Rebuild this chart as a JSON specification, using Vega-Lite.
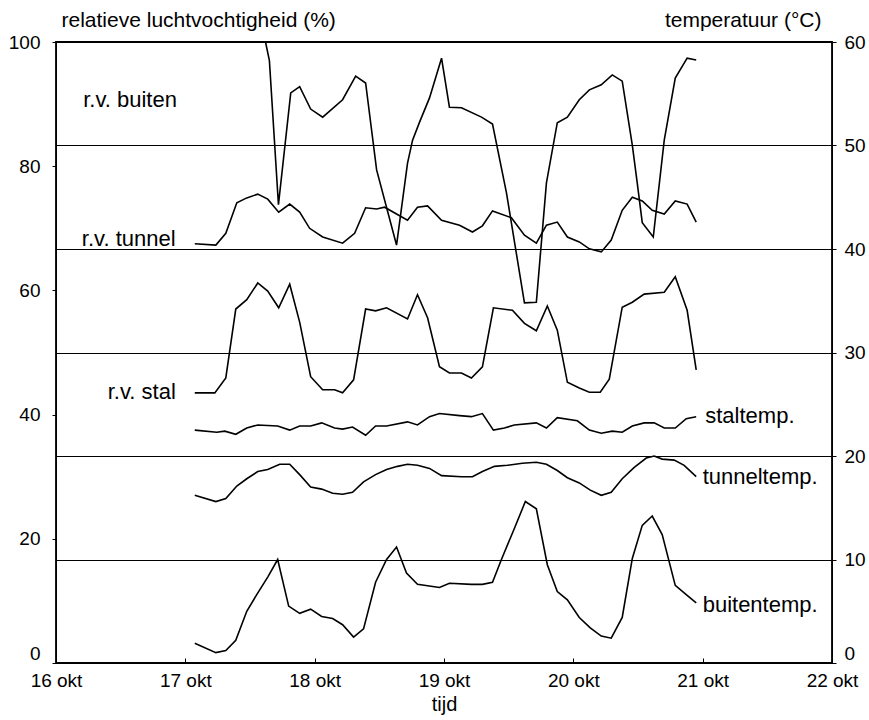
{
  "$schema": "https://vega.github.io/schema/vega-lite/v6.json",
  "width": 776,
  "height": 621,
  "autosize": {"type": "none"},
  "padding": {"left": 56, "top": 42, "right": 37, "bottom": 57},
  "background": "white",
  "config": {
    "view": {"stroke": "black", "strokeWidth": 1.8},
    "font": "Liberation Sans, Arial",
    "axis": {
      "labelFont": "Liberation Sans, Arial",
      "titleFont": "Liberation Sans, Arial",
      "labelColor": "black",
      "titleColor": "black",
      "labelFontSize": 19,
      "titleFontSize": 21,
      "titleFontWeight": "normal",
      "tickColor": "black",
      "domainColor": "black",
      "grid": false
    },
    "text": {"font": "Liberation Sans, Arial"}
  },
  "datasets": {
    "rv": [
      {"reeks": "r.v. buiten", "dag": 17.62, "rh": 100},
      {"reeks": "r.v. buiten", "dag": 17.65, "rh": 97},
      {"reeks": "r.v. buiten", "dag": 17.72, "rh": 73.8},
      {"reeks": "r.v. buiten", "dag": 17.815, "rh": 91.8},
      {"reeks": "r.v. buiten", "dag": 17.884, "rh": 92.8},
      {"reeks": "r.v. buiten", "dag": 17.969, "rh": 89.2},
      {"reeks": "r.v. buiten", "dag": 18.062, "rh": 87.9},
      {"reeks": "r.v. buiten", "dag": 18.216, "rh": 90.7},
      {"reeks": "r.v. buiten", "dag": 18.317, "rh": 94.5},
      {"reeks": "r.v. buiten", "dag": 18.394, "rh": 93.4},
      {"reeks": "r.v. buiten", "dag": 18.479, "rh": 79.4},
      {"reeks": "r.v. buiten", "dag": 18.633, "rh": 67.3},
      {"reeks": "r.v. buiten", "dag": 18.718, "rh": 80.5},
      {"reeks": "r.v. buiten", "dag": 18.757, "rh": 84.2},
      {"reeks": "r.v. buiten", "dag": 18.811, "rh": 87.1},
      {"reeks": "r.v. buiten", "dag": 18.888, "rh": 91},
      {"reeks": "r.v. buiten", "dag": 18.981, "rh": 97.4},
      {"reeks": "r.v. buiten", "dag": 19.042, "rh": 89.5},
      {"reeks": "r.v. buiten", "dag": 19.135, "rh": 89.4},
      {"reeks": "r.v. buiten", "dag": 19.29, "rh": 87.9},
      {"reeks": "r.v. buiten", "dag": 19.375, "rh": 86.8},
      {"reeks": "r.v. buiten", "dag": 19.483, "rh": 75.7},
      {"reeks": "r.v. buiten", "dag": 19.622, "rh": 58},
      {"reeks": "r.v. buiten", "dag": 19.714, "rh": 58.1},
      {"reeks": "r.v. buiten", "dag": 19.792, "rh": 77.3},
      {"reeks": "r.v. buiten", "dag": 19.876, "rh": 87},
      {"reeks": "r.v. buiten", "dag": 19.954, "rh": 87.9},
      {"reeks": "r.v. buiten", "dag": 20.046, "rh": 90.7},
      {"reeks": "r.v. buiten", "dag": 20.124, "rh": 92.3},
      {"reeks": "r.v. buiten", "dag": 20.216, "rh": 93.1},
      {"reeks": "r.v. buiten", "dag": 20.301, "rh": 94.7},
      {"reeks": "r.v. buiten", "dag": 20.378, "rh": 93.7},
      {"reeks": "r.v. buiten", "dag": 20.456, "rh": 83.4},
      {"reeks": "r.v. buiten", "dag": 20.494, "rh": 77.3},
      {"reeks": "r.v. buiten", "dag": 20.533, "rh": 70.9},
      {"reeks": "r.v. buiten", "dag": 20.618, "rh": 68.6},
      {"reeks": "r.v. buiten", "dag": 20.703, "rh": 84.2},
      {"reeks": "r.v. buiten", "dag": 20.788, "rh": 94.2},
      {"reeks": "r.v. buiten", "dag": 20.88, "rh": 97.4},
      {"reeks": "r.v. buiten", "dag": 20.95, "rh": 97.1},
      {"reeks": "r.v. tunnel", "dag": 17.073, "rh": 67.5},
      {"reeks": "r.v. tunnel", "dag": 17.236, "rh": 67.3},
      {"reeks": "r.v. tunnel", "dag": 17.313, "rh": 69.2},
      {"reeks": "r.v. tunnel", "dag": 17.398, "rh": 74.1},
      {"reeks": "r.v. tunnel", "dag": 17.475, "rh": 74.9},
      {"reeks": "r.v. tunnel", "dag": 17.56, "rh": 75.5},
      {"reeks": "r.v. tunnel", "dag": 17.637, "rh": 74.7},
      {"reeks": "r.v. tunnel", "dag": 17.722, "rh": 72.6},
      {"reeks": "r.v. tunnel", "dag": 17.807, "rh": 73.9},
      {"reeks": "r.v. tunnel", "dag": 17.884, "rh": 72.6},
      {"reeks": "r.v. tunnel", "dag": 17.961, "rh": 70},
      {"reeks": "r.v. tunnel", "dag": 18.062, "rh": 68.6},
      {"reeks": "r.v. tunnel", "dag": 18.216, "rh": 67.6},
      {"reeks": "r.v. tunnel", "dag": 18.309, "rh": 69.2},
      {"reeks": "r.v. tunnel", "dag": 18.394, "rh": 73.3},
      {"reeks": "r.v. tunnel", "dag": 18.479, "rh": 73.1},
      {"reeks": "r.v. tunnel", "dag": 18.541, "rh": 73.4},
      {"reeks": "r.v. tunnel", "dag": 18.633, "rh": 72.3},
      {"reeks": "r.v. tunnel", "dag": 18.718, "rh": 71.3},
      {"reeks": "r.v. tunnel", "dag": 18.795, "rh": 73.4},
      {"reeks": "r.v. tunnel", "dag": 18.873, "rh": 73.6},
      {"reeks": "r.v. tunnel", "dag": 18.981, "rh": 71.3},
      {"reeks": "r.v. tunnel", "dag": 19.12, "rh": 70.5},
      {"reeks": "r.v. tunnel", "dag": 19.22, "rh": 69.4},
      {"reeks": "r.v. tunnel", "dag": 19.297, "rh": 70.4},
      {"reeks": "r.v. tunnel", "dag": 19.375, "rh": 72.8},
      {"reeks": "r.v. tunnel", "dag": 19.521, "rh": 71.7},
      {"reeks": "r.v. tunnel", "dag": 19.622, "rh": 68.9},
      {"reeks": "r.v. tunnel", "dag": 19.714, "rh": 67.6},
      {"reeks": "r.v. tunnel", "dag": 19.792, "rh": 70.5},
      {"reeks": "r.v. tunnel", "dag": 19.876, "rh": 71},
      {"reeks": "r.v. tunnel", "dag": 19.954, "rh": 68.6},
      {"reeks": "r.v. tunnel", "dag": 20.046, "rh": 67.8},
      {"reeks": "r.v. tunnel", "dag": 20.124, "rh": 66.7},
      {"reeks": "r.v. tunnel", "dag": 20.216, "rh": 66.2},
      {"reeks": "r.v. tunnel", "dag": 20.293, "rh": 68.1},
      {"reeks": "r.v. tunnel", "dag": 20.378, "rh": 72.9},
      {"reeks": "r.v. tunnel", "dag": 20.456, "rh": 75},
      {"reeks": "r.v. tunnel", "dag": 20.533, "rh": 74.4},
      {"reeks": "r.v. tunnel", "dag": 20.61, "rh": 72.9},
      {"reeks": "r.v. tunnel", "dag": 20.703, "rh": 72.3},
      {"reeks": "r.v. tunnel", "dag": 20.788, "rh": 74.4},
      {"reeks": "r.v. tunnel", "dag": 20.88, "rh": 73.9},
      {"reeks": "r.v. tunnel", "dag": 20.95, "rh": 71},
      {"reeks": "r.v. stal", "dag": 17.073, "rh": 43.5},
      {"reeks": "r.v. stal", "dag": 17.228, "rh": 43.5},
      {"reeks": "r.v. stal", "dag": 17.313, "rh": 45.9},
      {"reeks": "r.v. stal", "dag": 17.39, "rh": 57},
      {"reeks": "r.v. stal", "dag": 17.475, "rh": 58.5},
      {"reeks": "r.v. stal", "dag": 17.56, "rh": 61.2},
      {"reeks": "r.v. stal", "dag": 17.637, "rh": 59.9},
      {"reeks": "r.v. stal", "dag": 17.722, "rh": 57.2},
      {"reeks": "r.v. stal", "dag": 17.807, "rh": 61},
      {"reeks": "r.v. stal", "dag": 17.884, "rh": 54.9},
      {"reeks": "r.v. stal", "dag": 17.969, "rh": 46.1},
      {"reeks": "r.v. stal", "dag": 18.062, "rh": 44},
      {"reeks": "r.v. stal", "dag": 18.154, "rh": 44},
      {"reeks": "r.v. stal", "dag": 18.216, "rh": 43.5},
      {"reeks": "r.v. stal", "dag": 18.301, "rh": 45.6},
      {"reeks": "r.v. stal", "dag": 18.394, "rh": 57},
      {"reeks": "r.v. stal", "dag": 18.471, "rh": 56.7},
      {"reeks": "r.v. stal", "dag": 18.556, "rh": 57.2},
      {"reeks": "r.v. stal", "dag": 18.718, "rh": 55.4},
      {"reeks": "r.v. stal", "dag": 18.795, "rh": 59.3},
      {"reeks": "r.v. stal", "dag": 18.873, "rh": 55.6},
      {"reeks": "r.v. stal", "dag": 18.965, "rh": 47.7},
      {"reeks": "r.v. stal", "dag": 19.042, "rh": 46.7},
      {"reeks": "r.v. stal", "dag": 19.135, "rh": 46.7},
      {"reeks": "r.v. stal", "dag": 19.212, "rh": 45.9},
      {"reeks": "r.v. stal", "dag": 19.297, "rh": 47.7},
      {"reeks": "r.v. stal", "dag": 19.382, "rh": 57.2},
      {"reeks": "r.v. stal", "dag": 19.529, "rh": 56.8},
      {"reeks": "r.v. stal", "dag": 19.622, "rh": 54.7},
      {"reeks": "r.v. stal", "dag": 19.714, "rh": 53.5},
      {"reeks": "r.v. stal", "dag": 19.799, "rh": 57.5},
      {"reeks": "r.v. stal", "dag": 19.876, "rh": 53.6},
      {"reeks": "r.v. stal", "dag": 19.954, "rh": 45.2},
      {"reeks": "r.v. stal", "dag": 20.046, "rh": 44.3},
      {"reeks": "r.v. stal", "dag": 20.124, "rh": 43.6},
      {"reeks": "r.v. stal", "dag": 20.208, "rh": 43.6},
      {"reeks": "r.v. stal", "dag": 20.278, "rh": 45.7},
      {"reeks": "r.v. stal", "dag": 20.378, "rh": 57.3},
      {"reeks": "r.v. stal", "dag": 20.456, "rh": 58.1},
      {"reeks": "r.v. stal", "dag": 20.548, "rh": 59.4},
      {"reeks": "r.v. stal", "dag": 20.703, "rh": 59.7},
      {"reeks": "r.v. stal", "dag": 20.788, "rh": 62.2},
      {"reeks": "r.v. stal", "dag": 20.88, "rh": 56.8},
      {"reeks": "r.v. stal", "dag": 20.95, "rh": 47.2}
    ],
    "temp": [
      {"reeks": "staltemp.", "dag": 17.073, "temp": 22.5},
      {"reeks": "staltemp.", "dag": 17.243, "temp": 22.3},
      {"reeks": "staltemp.", "dag": 17.305, "temp": 22.4},
      {"reeks": "staltemp.", "dag": 17.39, "temp": 22.1},
      {"reeks": "staltemp.", "dag": 17.475, "temp": 22.7},
      {"reeks": "staltemp.", "dag": 17.56, "temp": 23},
      {"reeks": "staltemp.", "dag": 17.714, "temp": 22.9},
      {"reeks": "staltemp.", "dag": 17.807, "temp": 22.5},
      {"reeks": "staltemp.", "dag": 17.884, "temp": 22.9},
      {"reeks": "staltemp.", "dag": 17.969, "temp": 22.9},
      {"reeks": "staltemp.", "dag": 18.054, "temp": 23.2},
      {"reeks": "staltemp.", "dag": 18.154, "temp": 22.7},
      {"reeks": "staltemp.", "dag": 18.216, "temp": 22.6},
      {"reeks": "staltemp.", "dag": 18.293, "temp": 22.8},
      {"reeks": "staltemp.", "dag": 18.394, "temp": 22},
      {"reeks": "staltemp.", "dag": 18.471, "temp": 22.9},
      {"reeks": "staltemp.", "dag": 18.556, "temp": 22.9},
      {"reeks": "staltemp.", "dag": 18.718, "temp": 23.3},
      {"reeks": "staltemp.", "dag": 18.795, "temp": 23},
      {"reeks": "staltemp.", "dag": 18.888, "temp": 23.8},
      {"reeks": "staltemp.", "dag": 18.965, "temp": 24.1},
      {"reeks": "staltemp.", "dag": 19.12, "temp": 23.9},
      {"reeks": "staltemp.", "dag": 19.212, "temp": 23.8},
      {"reeks": "staltemp.", "dag": 19.297, "temp": 24.1},
      {"reeks": "staltemp.", "dag": 19.382, "temp": 22.5},
      {"reeks": "staltemp.", "dag": 19.467, "temp": 22.7},
      {"reeks": "staltemp.", "dag": 19.544, "temp": 23},
      {"reeks": "staltemp.", "dag": 19.714, "temp": 23.2},
      {"reeks": "staltemp.", "dag": 19.792, "temp": 22.7},
      {"reeks": "staltemp.", "dag": 19.876, "temp": 23.7},
      {"reeks": "staltemp.", "dag": 20.031, "temp": 23.4},
      {"reeks": "staltemp.", "dag": 20.124, "temp": 22.5},
      {"reeks": "staltemp.", "dag": 20.216, "temp": 22.2},
      {"reeks": "staltemp.", "dag": 20.301, "temp": 22.4},
      {"reeks": "staltemp.", "dag": 20.378, "temp": 22.3},
      {"reeks": "staltemp.", "dag": 20.456, "temp": 22.9},
      {"reeks": "staltemp.", "dag": 20.548, "temp": 23.2},
      {"reeks": "staltemp.", "dag": 20.625, "temp": 23.2},
      {"reeks": "staltemp.", "dag": 20.703, "temp": 22.7},
      {"reeks": "staltemp.", "dag": 20.788, "temp": 22.7},
      {"reeks": "staltemp.", "dag": 20.873, "temp": 23.6},
      {"reeks": "staltemp.", "dag": 20.95, "temp": 23.8},
      {"reeks": "tunneltemp.", "dag": 17.073, "temp": 16.2},
      {"reeks": "tunneltemp.", "dag": 17.236, "temp": 15.6},
      {"reeks": "tunneltemp.", "dag": 17.313, "temp": 15.9},
      {"reeks": "tunneltemp.", "dag": 17.398, "temp": 17.1},
      {"reeks": "tunneltemp.", "dag": 17.475, "temp": 17.8},
      {"reeks": "tunneltemp.", "dag": 17.56, "temp": 18.5},
      {"reeks": "tunneltemp.", "dag": 17.637, "temp": 18.7},
      {"reeks": "tunneltemp.", "dag": 17.73, "temp": 19.2},
      {"reeks": "tunneltemp.", "dag": 17.807, "temp": 19.2},
      {"reeks": "tunneltemp.", "dag": 17.884, "temp": 18.2},
      {"reeks": "tunneltemp.", "dag": 17.969, "temp": 17},
      {"reeks": "tunneltemp.", "dag": 18.054, "temp": 16.8},
      {"reeks": "tunneltemp.", "dag": 18.139, "temp": 16.4},
      {"reeks": "tunneltemp.", "dag": 18.216, "temp": 16.3},
      {"reeks": "tunneltemp.", "dag": 18.293, "temp": 16.5},
      {"reeks": "tunneltemp.", "dag": 18.378, "temp": 17.5},
      {"reeks": "tunneltemp.", "dag": 18.471, "temp": 18.2},
      {"reeks": "tunneltemp.", "dag": 18.556, "temp": 18.7},
      {"reeks": "tunneltemp.", "dag": 18.641, "temp": 19},
      {"reeks": "tunneltemp.", "dag": 18.718, "temp": 19.2},
      {"reeks": "tunneltemp.", "dag": 18.795, "temp": 19.1},
      {"reeks": "tunneltemp.", "dag": 18.888, "temp": 18.8},
      {"reeks": "tunneltemp.", "dag": 18.981, "temp": 18.1},
      {"reeks": "tunneltemp.", "dag": 19.135, "temp": 18},
      {"reeks": "tunneltemp.", "dag": 19.22, "temp": 18},
      {"reeks": "tunneltemp.", "dag": 19.297, "temp": 18.5},
      {"reeks": "tunneltemp.", "dag": 19.39, "temp": 19},
      {"reeks": "tunneltemp.", "dag": 19.49, "temp": 19.1},
      {"reeks": "tunneltemp.", "dag": 19.606, "temp": 19.3},
      {"reeks": "tunneltemp.", "dag": 19.714, "temp": 19.4},
      {"reeks": "tunneltemp.", "dag": 19.792, "temp": 19.2},
      {"reeks": "tunneltemp.", "dag": 19.876, "temp": 18.6},
      {"reeks": "tunneltemp.", "dag": 19.954, "temp": 17.9},
      {"reeks": "tunneltemp.", "dag": 20.046, "temp": 17.4},
      {"reeks": "tunneltemp.", "dag": 20.131, "temp": 16.7},
      {"reeks": "tunneltemp.", "dag": 20.216, "temp": 16.2},
      {"reeks": "tunneltemp.", "dag": 20.293, "temp": 16.5},
      {"reeks": "tunneltemp.", "dag": 20.378, "temp": 17.8},
      {"reeks": "tunneltemp.", "dag": 20.471, "temp": 18.9},
      {"reeks": "tunneltemp.", "dag": 20.564, "temp": 19.8},
      {"reeks": "tunneltemp.", "dag": 20.625, "temp": 20},
      {"reeks": "tunneltemp.", "dag": 20.687, "temp": 19.7},
      {"reeks": "tunneltemp.", "dag": 20.78, "temp": 19.6},
      {"reeks": "tunneltemp.", "dag": 20.857, "temp": 19.1},
      {"reeks": "tunneltemp.", "dag": 20.95, "temp": 18},
      {"reeks": "buitentemp.", "dag": 17.073, "temp": 1.9},
      {"reeks": "buitentemp.", "dag": 17.236, "temp": 1},
      {"reeks": "buitentemp.", "dag": 17.313, "temp": 1.2},
      {"reeks": "buitentemp.", "dag": 17.39, "temp": 2.2},
      {"reeks": "buitentemp.", "dag": 17.475, "temp": 5},
      {"reeks": "buitentemp.", "dag": 17.552, "temp": 6.6},
      {"reeks": "buitentemp.", "dag": 17.637, "temp": 8.3},
      {"reeks": "buitentemp.", "dag": 17.714, "temp": 10},
      {"reeks": "buitentemp.", "dag": 17.799, "temp": 5.5},
      {"reeks": "buitentemp.", "dag": 17.884, "temp": 4.8},
      {"reeks": "buitentemp.", "dag": 17.969, "temp": 5.2},
      {"reeks": "buitentemp.", "dag": 18.054, "temp": 4.5},
      {"reeks": "buitentemp.", "dag": 18.139, "temp": 4.3},
      {"reeks": "buitentemp.", "dag": 18.216, "temp": 3.7},
      {"reeks": "buitentemp.", "dag": 18.301, "temp": 2.5},
      {"reeks": "buitentemp.", "dag": 18.378, "temp": 3.3},
      {"reeks": "buitentemp.", "dag": 18.471, "temp": 7.8},
      {"reeks": "buitentemp.", "dag": 18.556, "temp": 10},
      {"reeks": "buitentemp.", "dag": 18.633, "temp": 11.2},
      {"reeks": "buitentemp.", "dag": 18.71, "temp": 8.7},
      {"reeks": "buitentemp.", "dag": 18.795, "temp": 7.6},
      {"reeks": "buitentemp.", "dag": 18.965, "temp": 7.3},
      {"reeks": "buitentemp.", "dag": 19.042, "temp": 7.7},
      {"reeks": "buitentemp.", "dag": 19.212, "temp": 7.6},
      {"reeks": "buitentemp.", "dag": 19.297, "temp": 7.6},
      {"reeks": "buitentemp.", "dag": 19.375, "temp": 7.8},
      {"reeks": "buitentemp.", "dag": 19.444, "temp": 10},
      {"reeks": "buitentemp.", "dag": 19.544, "temp": 13},
      {"reeks": "buitentemp.", "dag": 19.629, "temp": 15.6},
      {"reeks": "buitentemp.", "dag": 19.714, "temp": 14.9},
      {"reeks": "buitentemp.", "dag": 19.799, "temp": 9.5},
      {"reeks": "buitentemp.", "dag": 19.876, "temp": 6.9},
      {"reeks": "buitentemp.", "dag": 19.954, "temp": 6.1},
      {"reeks": "buitentemp.", "dag": 20.046, "temp": 4.4},
      {"reeks": "buitentemp.", "dag": 20.131, "temp": 3.4},
      {"reeks": "buitentemp.", "dag": 20.216, "temp": 2.6},
      {"reeks": "buitentemp.", "dag": 20.293, "temp": 2.4},
      {"reeks": "buitentemp.", "dag": 20.378, "temp": 4.4},
      {"reeks": "buitentemp.", "dag": 20.456, "temp": 10.1},
      {"reeks": "buitentemp.", "dag": 20.533, "temp": 13.3},
      {"reeks": "buitentemp.", "dag": 20.61, "temp": 14.2},
      {"reeks": "buitentemp.", "dag": 20.687, "temp": 12.4},
      {"reeks": "buitentemp.", "dag": 20.788, "temp": 7.5},
      {"reeks": "buitentemp.", "dag": 20.873, "temp": 6.6},
      {"reeks": "buitentemp.", "dag": 20.95, "temp": 5.8}
    ],
    "rvlabels": [
      {"label": "r.v. buiten", "dag": 16.21, "rh": 90.7},
      {"label": "r.v. tunnel", "dag": 16.2, "rh": 68.3},
      {"label": "r.v. stal", "dag": 16.4, "rh": 43.6}
    ],
    "templabels": [
      {"label": "staltemp.", "dag": 21.02, "temp": 23.9},
      {"label": "tunneltemp.", "dag": 21.0, "temp": 18.0},
      {"label": "buitentemp.", "dag": 21.0, "temp": 5.6}
    ]
  },
  "encoding": {
    "x": {
      "field": "dag",
      "type": "quantitative",
      "scale": {"domain": [16, 22], "nice": false, "zero": false},
      "axis": {
        "values": [16, 17, 18, 19, 20, 21, 22],
        "labelExpr": "datum.value + ' okt'",
        "title": "tijd",
        "titleFontSize": 20,
        "tickSize": -5,
        "labelPadding": 13,
        "titlePadding": 4,
        "labelFlush": false,
        "labelOverlap": false
      }
    }
  },
  "layer": [
    {
      "encoding": {
        "y": {
          "field": "rh",
          "type": "quantitative",
          "scale": {"domain": [0, 100], "nice": false},
          "axis": {
            "orient": "left",
            "values": [0, 20, 40, 60, 80, 100],
            "title": "relatieve luchtvochtigheid (%)",
            "titleAngle": 0,
            "titleAlign": "left",
            "titleBaseline": "alphabetic",
            "titleX": 5,
            "titleY": -16,
            "tickSize": 4,
            "labelPadding": 12,
            "labelBaseline": {"condition": {"test": "datum.value == 0", "value": "bottom"}, "value": "middle"},
            "grid": false
          }
        }
      },
      "layer": [
        {
          "data": {"name": "rv"},
          "mark": {"type": "line", "color": "black", "strokeWidth": 1.6},
          "encoding": {"detail": {"field": "reeks", "type": "nominal"}}
        },
        {
          "data": {"name": "rvlabels"},
          "mark": {"type": "text", "align": "left", "baseline": "middle", "fontSize": 22, "color": "black"},
          "encoding": {"text": {"field": "label", "type": "nominal"}}
        }
      ]
    },
    {
      "encoding": {
        "y": {
          "field": "temp",
          "type": "quantitative",
          "scale": {"domain": [0, 60], "nice": false},
          "axis": {
            "orient": "right",
            "values": [0, 10, 20, 30, 40, 50, 60],
            "title": "temperatuur (°C)",
            "titleAngle": 0,
            "titleAlign": "right",
            "titleBaseline": "alphabetic",
            "titleX": -11,
            "titleY": -16,
            "tickSize": 4,
            "labelPadding": 8,
            "labelBaseline": {"condition": {"test": "datum.value == 0", "value": "bottom"}, "value": "middle"},
            "grid": true,
            "gridColor": "black",
            "gridOpacity": 1,
            "gridWidth": 1.2
          }
        }
      },
      "layer": [
        {
          "data": {"name": "temp"},
          "mark": {"type": "line", "color": "black", "strokeWidth": 1.6},
          "encoding": {"detail": {"field": "reeks", "type": "nominal"}}
        },
        {
          "data": {"name": "templabels"},
          "mark": {"type": "text", "align": "left", "baseline": "middle", "fontSize": 22, "color": "black"},
          "encoding": {"text": {"field": "label", "type": "nominal"}}
        }
      ]
    }
  ],
  "resolve": {"scale": {"y": "independent"}}
}
